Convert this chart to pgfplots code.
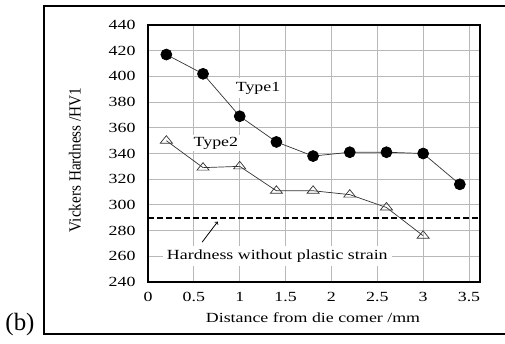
\documentclass[border=0pt]{standalone}
\usepackage{fontspec}
\setmainfont{Liberation Serif}
\newfontfamily\wide{Liberation Serif}[FakeStretch=1.28]
\newfontfamily\narrow{Liberation Serif}[FakeStretch=0.9]
\usepackage{pgfplots}
\pgfplotsset{compat=1.18}
\begin{document}
\begin{tikzpicture}[x=1bp,y=1bp]
\useasboundingbox (0,0) rectangle (505,343);
\draw[line width=2bp] (506,337) -- (44,337) -- (44,9) -- (506,9);
\node at (20,18) {\fontsize{25}{27}\selectfont (b)};
\begin{axis}[
  at={(148bp,61bp)}, anchor=south west,
  scale only axis, width=332bp, height=257bp,
  xmin=0, xmax=3.62, ymin=240, ymax=440,
  xtick={0,0.5,1,1.5,2,2.5,3,3.5},
  xticklabels={0,0.5,1,1.5,2,2.5,3,3.5},
  ytick={240,260,280,300,320,340,360,380,400,420,440},
  grid=major,
  major grid style={black!28, line width=0.9bp},
  major tick length=0pt,
  axis line style={line width=2.4bp},
  /pgf/number format/assume math mode=true,
  tick label style={font=\wide\fontsize{14}{16}\selectfont},
  yticklabel style={xshift=-9bp},
  xticklabel style={yshift=-7bp},
  xlabel={Distance from die comer /mm},
  xlabel style={font=\wide\fontsize{14}{16}\selectfont, at={(axis description cs:0.497,-0.14)}, anchor=center},
  ylabel={Vickers Hardness /HV1},
  ylabel style={font=\narrow\fontsize{17}{19}\selectfont, at={(axis description cs:-0.22,0.475)}, anchor=center},
  clip=false,
]
\addplot[black, line width=2.2bp, dash pattern=on 6bp off 3bp, forget plot] coordinates {(0,290) (3.62,290)};
\addplot[black!80, line width=0.7bp, mark=*, mark size=5.5bp, mark options={fill=black, draw=black, solid}] coordinates {
(0.2,417) (0.6,402) (1.0,369) (1.4,349) (1.8,338) (2.2,341) (2.6,341) (3.0,340) (3.4,316)};
\addplot[black!80, line width=0.7bp, mark=triangle, mark size=5bp, mark options={fill=white, draw=black!80, line width=0.7bp, xscale=1.4, solid}] coordinates {
(0.2,350) (0.6,329) (1.0,330) (1.4,311) (1.8,311) (2.2,308) (2.6,298) (3.0,276)};
\node[fill=white, font=\wide\fontsize{14}{16}\selectfont, inner sep=4bp] at (axis cs:1.2,391) {Type1};
\node[fill=white, font=\wide\fontsize{14}{16}\selectfont, inner sep=2bp] at (axis cs:0.74,348) {Type2};
\node[fill=white, font=\wide\fontsize{14}{16}\selectfont, inner sep=4bp] at (axis cs:1.41,260.2) {Hardness without plastic strain};
\draw[->, line width=0.8bp] (axis cs:0.59,271) -- (axis cs:0.76,287);
\end{axis}
\end{tikzpicture}
\end{document}
